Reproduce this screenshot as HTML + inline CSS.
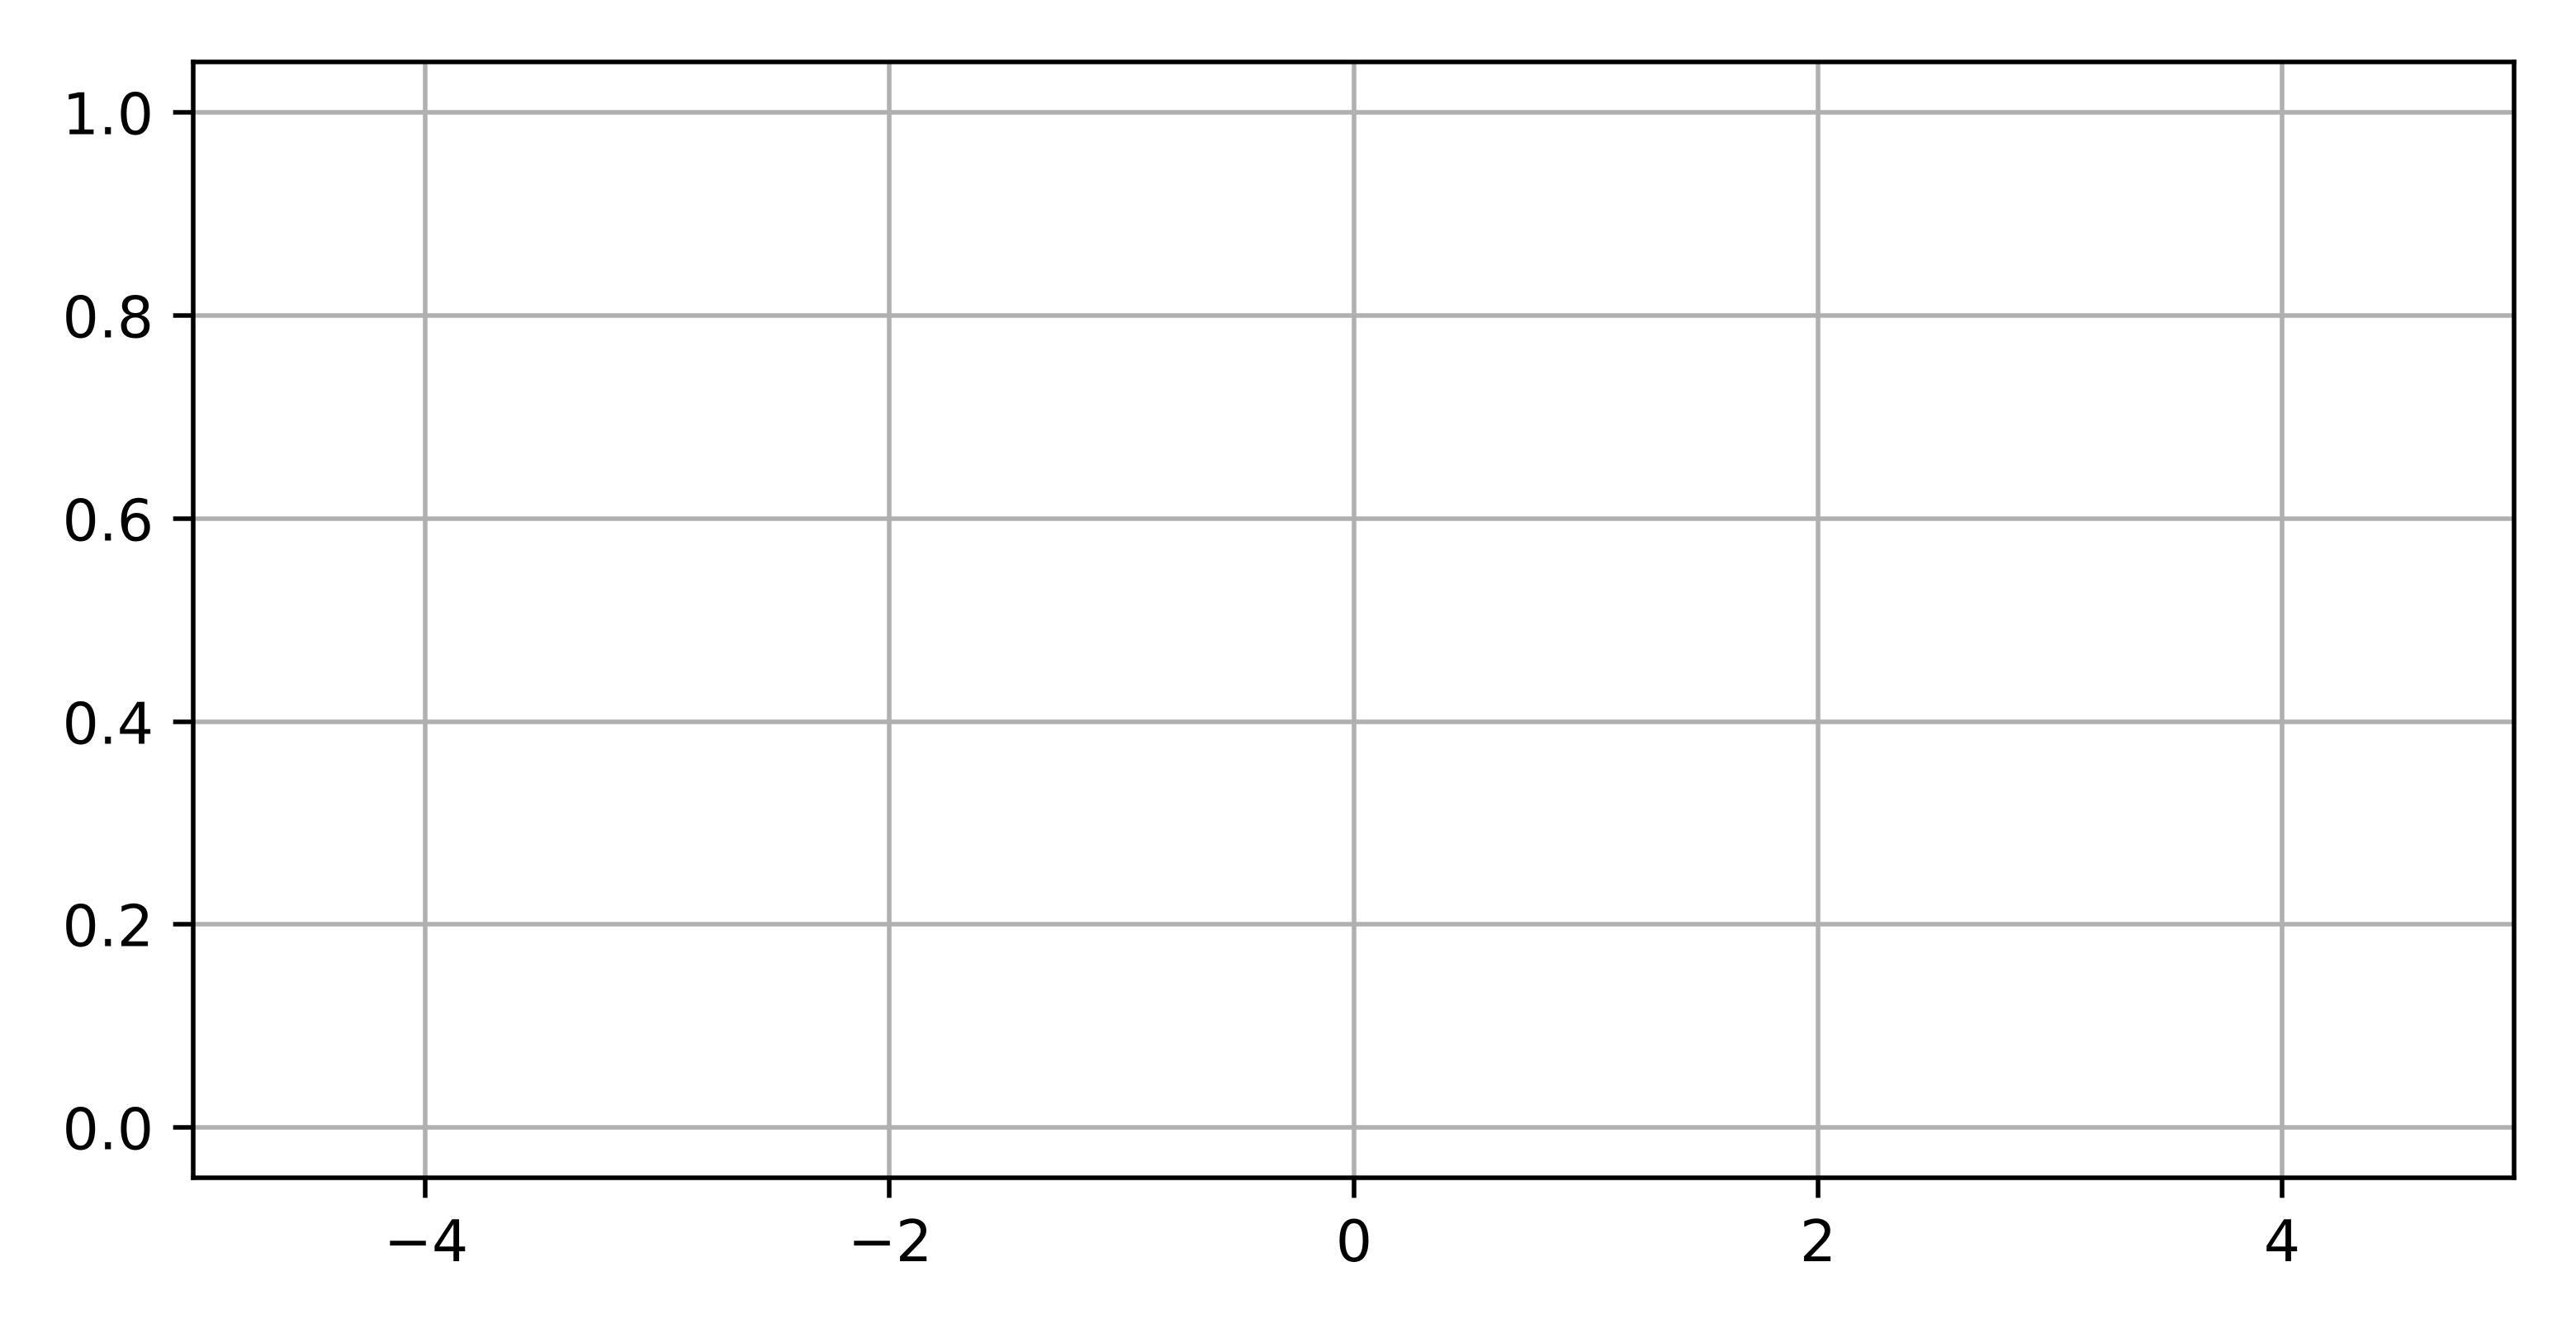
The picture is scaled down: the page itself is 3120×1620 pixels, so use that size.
<!DOCTYPE html>
<html lang="en">
<head>
<meta charset="utf-8">
<title>Empty chart with grid</title>
<style>
  html, body { margin: 0; padding: 0; background: #ffffff; }
  #chart { display: block; width: 3120px; height: 1620px; }
  text { font-family: "DejaVu Sans", "Liberation Sans", sans-serif; font-size: 69.44px; fill: #000000; }
</style>
</head>
<body>
<svg id="chart" xmlns="http://www.w3.org/2000/svg" width="3120" height="1620" viewBox="0 0 3120 1620">
  <rect x="0" y="0" width="3120" height="1620" fill="#ffffff"></rect>
  <g id="grid"></g>
  <g id="ticks"></g>
  <g id="labels"></g>
  <g id="spines" stroke="#000000" stroke-width="5.55" stroke-linecap="square">
    <line x1="234" y1="75" x2="234" y2="1426"></line>
    <line x1="3045" y1="75" x2="3045" y2="1426"></line>
    <line x1="234" y1="75" x2="3045" y2="75"></line>
    <line x1="234" y1="1426" x2="3045" y2="1426"></line>
  </g>
</svg>
<script>
const xTicks = [-4, -2, 0, 2, 4];
const yTicks = [0.0, 0.2, 0.4, 0.6, 0.8, 1.0];
const xDomain = [-5, 5];
const yDomain = [-0.05, 1.05];

const plot = { left: 234, right: 3045.5, top: 74.8, bottom: 1426.49 };
const NS = 'http://www.w3.org/2000/svg';

function xScale(v) {
  return plot.left + (v - xDomain[0]) / (xDomain[1] - xDomain[0]) * (plot.right - plot.left);
}
function yScale(v) {
  return plot.bottom - (v - yDomain[0]) / (yDomain[1] - yDomain[0]) * (plot.bottom - plot.top);
}
function makeLine(parent, x1, y1, x2, y2, color) {
  const el = document.createElementNS(NS, 'line');
  el.setAttribute('x1', x1);
  el.setAttribute('y1', y1);
  el.setAttribute('x2', x2);
  el.setAttribute('y2', y2);
  el.setAttribute('stroke', color);
  el.setAttribute('stroke-width', '5.55');
  parent.appendChild(el);
  return el;
}
function makeText(parent, x, y, anchor, content) {
  const el = document.createElementNS(NS, 'text');
  el.setAttribute('x', x);
  el.setAttribute('y', y);
  el.setAttribute('text-anchor', anchor);
  el.textContent = content;
  parent.appendChild(el);
  return el;
}

const gridGroup = document.getElementById('grid');
const tickGroup = document.getElementById('ticks');
const labelGroup = document.getElementById('labels');
const tickLength = 24.3;
const spineTop = 75;
const spineBottom = 1426;
const spineRight = 3045;

xTicks.forEach(function (v) {
  const px = Math.round(xScale(v));
  const label = v < 0 ? '\u2212' + Math.abs(v) : String(v);
  const labelX = v < 0 ? px + 1 : px;

  const gridLine = makeLine(gridGroup, px, spineTop, px, spineBottom, '#b0b0b0');
  
  

  const tick = makeLine(tickGroup, px, spineBottom, px, spineBottom + tickLength, '#000000');
  
  

  const text = makeText(labelGroup, labelX, 1527, 'middle', label);
  
  
});

yTicks.forEach(function (v) {
  const py = Math.round(yScale(v));

  const gridLine = makeLine(gridGroup, plot.left, py, spineRight, py, '#b0b0b0');
  
  

  const tick = makeLine(tickGroup, plot.left - tickLength, py, plot.left, py, '#000000');
  
  

  const text = makeText(labelGroup, 186, py + 26.5, 'end', v.toFixed(1));
  
  
});
</script>
</body>
</html>
